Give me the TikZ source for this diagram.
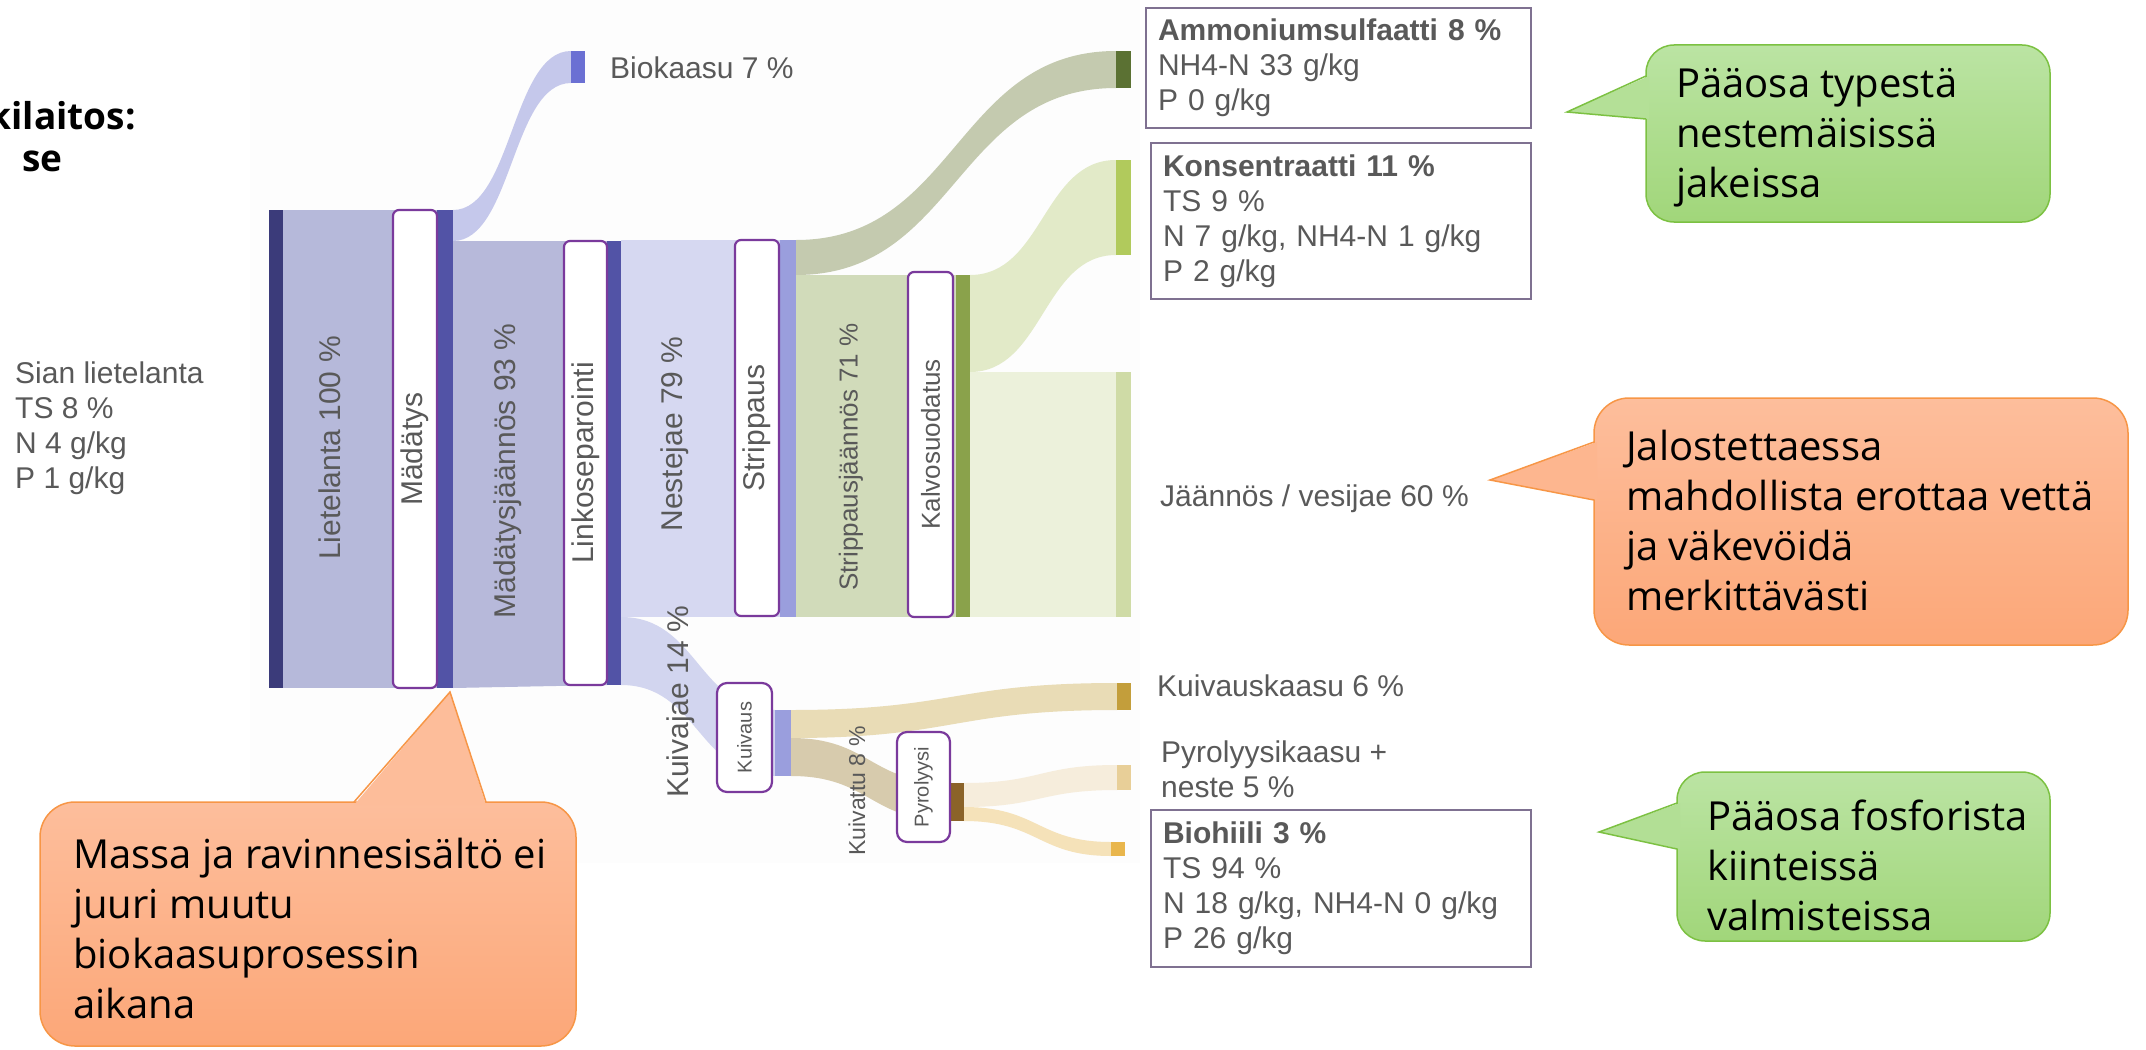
\documentclass[tikz,border=0pt]{standalone}
\usepackage{fontspec}
\usepackage{tikz}
\setmainfont{Liberation Sans}
\newfontfamily\callfont{Open Sans}

\definecolor{txtgray}{HTML}{595959}
\definecolor{bgpanel}{HTML}{FDFDFD}
\definecolor{procline}{HTML}{7A3A9C}
\definecolor{boxline}{HTML}{7F7191}
\definecolor{bliete}{HTML}{3B3B7A}
\definecolor{fliete}{HTML}{B6B9DA}
\definecolor{bmad}{HTML}{5253A6}
\definecolor{fbio}{HTML}{C5C8EB}
\definecolor{bbio}{HTML}{6B70D3}
\definecolor{fmad}{HTML}{B7B9DA}
\definecolor{fneste}{HTML}{D6D8F1}
\definecolor{fkuivajae}{HTML}{D2D5EF}
\definecolor{bstrip}{HTML}{9A9EDD}
\definecolor{famm}{HTML}{C4CAAF}
\definecolor{bamm}{HTML}{5B7133}
\definecolor{fstrip}{HTML}{D1DBBA}
\definecolor{bkalvo}{HTML}{8AA24B}
\definecolor{fkons}{HTML}{E2EAC8}
\definecolor{bkons}{HTML}{B1CA5C}
\definecolor{fjaan}{HTML}{ECF1DB}
\definecolor{bjaan}{HTML}{CFDBA6}
\definecolor{fkkaasu}{HTML}{E9DCB6}
\definecolor{bkkaasu}{HTML}{C39E3B}
\definecolor{fkuivattu}{HTML}{D7CBAD}
\definecolor{bpyro}{HTML}{8B6329}
\definecolor{fpkaasu}{HTML}{F6EDDC}
\definecolor{bpkaasu}{HTML}{E8CF98}
\definecolor{fhiili}{HTML}{F5E2B9}
\definecolor{bhiili}{HTML}{E9B64C}
\definecolor{gtop}{HTML}{BBE4A3}
\definecolor{gbot}{HTML}{A1D67A}
\definecolor{gedge}{HTML}{7CC142}
\definecolor{otop}{HTML}{FDBE9C}
\definecolor{obot}{HTML}{FCA778}
\definecolor{oedge}{HTML}{F79646}

\tikzset{
  procbox/.style={draw=procline, line width=2.2, fill=white, rounded corners=6, rotate=90, inner sep=0, text=txtgray, font=\fontsize{30}{36}\selectfont},
  flowlbl/.style={rotate=90, inner sep=0, text=txtgray, font=\fontsize{30}{36}\selectfont},
  lbl/.style={inner sep=0, text=txtgray, align=left, font=\fontsize{30}{35}\selectfont},
  infobox/.style={draw=boxline, line width=2, fill=white, anchor=north west, align=left, inner xsep=12, text=txtgray, font=\fontsize{30}{35}\selectfont},
  gcall/.style={top color=gtop, bottom color=gbot, draw=gedge, line width=1.5},
  ocall/.style={top color=otop, bottom color=obot, draw=oedge, line width=1.5},
  calltxt/.style={anchor=north west, inner sep=0, align=left, font=\callfont\fontsize{40}{50}\selectfont}
}

\begin{document}
\begin{tikzpicture}[x=1pt,y=-1pt]
\useasboundingbox (0,0) rectangle (2146,1049);
\fill[bgpanel] (250,0) rectangle (1140,863);

% title, cut at the left edge
\node[anchor=base east, inner sep=0, font=\callfont\bfseries\fontsize{37}{42}\selectfont] (otsikko1) at (136,129) {kilaitos:};
\node[anchor=base east, inner sep=0, font=\callfont\bfseries\fontsize{37}{42}\selectfont] (otsikko2) at (63,171) {se};

% flows
\fill[fliete] (283,210) rectangle (437,688);
\fill[fbio] (453,210) .. controls (512,210) and (512,51) .. (571,51) -- (571,83) .. controls (512,83) and (512,241) .. (453,241) -- cycle;
\fill[fmad] (453,241) -- (607,241) -- (607,685) -- (453,688) -- cycle;
\fill[fneste] (621,240) rectangle (780,617);
\fill[fkuivajae] (621,617) .. controls (698,617) and (698,710) .. (775,710) -- (775,776) .. controls (698,776) and (698,685) .. (621,685) -- cycle;
\fill[famm] (796,240) .. controls (956,240) and (956,51) .. (1116,51) -- (1116,88) .. controls (956,88) and (956,275) .. (796,275) -- cycle;
\fill[fstrip] (796,275) rectangle (956,617);
\fill[fkons] (970,275) .. controls (1043,275) and (1043,160) .. (1116,160) -- (1116,255) .. controls (1043,255) and (1043,372) .. (970,372) -- cycle;
\fill[fjaan] (970,372) rectangle (1116,617);
\fill[fkkaasu] (791,710) .. controls (954,710) and (954,683) .. (1117,683) -- (1117,710) .. controls (954,710) and (954,738) .. (791,738) -- cycle;
\fill[fkuivattu] (791,738) .. controls (870,738) and (870,783) .. (950,783) -- (950,821) .. controls (870,821) and (870,776) .. (791,776) -- cycle;
\fill[fpkaasu] (964,783) .. controls (1040,783) and (1040,765) .. (1117,765) -- (1117,790) .. controls (1040,790) and (1040,807) .. (964,807) -- cycle;
\fill[fhiili] (964,807) .. controls (1038,807) and (1038,842) .. (1111,842) -- (1111,856) .. controls (1038,856) and (1038,821) .. (964,821) -- cycle;

% bars
\fill[bliete] (269,210) rectangle (283,688);
\fill[bmad] (437,210) rectangle (453,688);
\fill[bbio] (571,51) rectangle (585,83);
\fill[bmad] (607,241) rectangle (621,685);
\fill[bstrip] (780,240) rectangle (796,617);
\fill[bamm] (1116,51) rectangle (1131,88);
\fill[bkalvo] (956,275) rectangle (970,617);
\fill[bkons] (1116,160) rectangle (1131,255);
\fill[bjaan] (1116,372) rectangle (1131,617);
\fill[bstrip] (775,710) rectangle (791,776);
\fill[bkkaasu] (1117,683) rectangle (1131,710);
\fill[bpyro] (950,783) rectangle (964,821);
\fill[bpkaasu] (1117,765) rectangle (1131,790);
\fill[bhiili] (1111,842) rectangle (1125,856);

% process boxes
\node[procbox, minimum width=478, minimum height=44] (mad) at (415,449) {Mädätys};
\node[procbox, minimum width=444, minimum height=43] (link) at (585.5,463) {Linkoseparointi};
\node[procbox, minimum width=376, minimum height=44] (strip) at (757,428) {Strippaus};
\node[procbox, minimum width=345, minimum height=45, font=\fontsize{26}{30}\selectfont] (kalvo) at (930.5,444.5) {Kalvosuodatus};
\node[procbox, minimum width=109, minimum height=55, rounded corners=10, font=\fontsize{20}{24}\selectfont] (kuiv) at (744.5,737.5) {Kuivaus};
\node[procbox, minimum width=110, minimum height=53, rounded corners=10, font=\fontsize{20}{24}\selectfont] (pyro) at (923.5,787) {Pyrolyysi};

% flow labels
\node[flowlbl] (lliete) at (330,448) {Lietelanta 100 \%};
\node[flowlbl] (lmadj) at (508,471) {Mädätysjäännös 93 \%};
\node[flowlbl] (lneste) at (675,434) {Nestejae 79 \%};
\node[flowlbl, font=\fontsize{26}{30}\selectfont] (lstrip) at (851,457) {Strippausjäännös 71 \%};
\node[flowlbl] (lkuivajae) at (681,702) {Kuivajae 14 \%};
\node[flowlbl, font=\fontsize{23}{27}\selectfont] (lkuivattu) at (857,791) {Kuivattu 8 \%};

% texts
\node[lbl, anchor=north west] (sian) at (15,362) {Sian lietelanta\\TS 8 \%\\N 4 g/kg\\P 1 g/kg};
\node[lbl, anchor=base west] (biokaasu) at (610,78) {Biokaasu 7 \%};
\node[lbl, anchor=base west] (jaan) at (1160,506) {Jäännös / vesijae 60 \%};
\node[lbl, anchor=base west] (kkaasu) at (1157,696) {Kuivauskaasu 6 \%};
\node[lbl, anchor=north west] (pkaasu) at (1161,741) {Pyrolyysikaasu +\\neste 5 \%};

\node[infobox, text width=361, minimum height=120] (amm) at (1145,7) {\textbf{Ammoniumsulfaatti 8 \%}\\NH4-N 33 g/kg\\P 0 g/kg};
\node[infobox, text width=356, minimum height=156] (kons) at (1150,142) {\textbf{Konsentraatti 11 \%}\\TS 9 \%\\N 7 g/kg, NH4-N 1 g/kg\\P 2 g/kg};
\node[infobox, text width=356, minimum height=157] (hiili) at (1150,809) {\textbf{Biohiili 3 \%}\\TS 94 \%\\N 18 g/kg, NH4-N 0 g/kg\\P 26 g/kg};

% callouts: box, then pointer over its edge
\draw[gcall, rounded corners=28] (1646,45) rectangle (2050,222);
\fill[gtop!72!gbot] (1649,76) -- (1567,112) -- (1649,119) -- cycle;
\draw[gedge, line width=1.5, line join=miter] (1646,76) -- (1567,112) -- (1646,119);
\node[calltxt] (typpi) at (1676,68) {Pääosa typestä\\nestemäisissä\\jakeissa};

\draw[ocall, rounded corners=35] (1594,398) rectangle (2128,645);
\fill[otop!65!obot] (1597,442) -- (1490,480) -- (1597,500) -- cycle;
\draw[oedge, line width=1.5, line join=miter] (1594,442) -- (1490,480) -- (1594,500);
\node[calltxt] (vesi) at (1626,430) {Jalostettaessa\\mahdollista erottaa vettä\\ja väkevöidä\\merkittävästi};

\draw[gcall, rounded corners=28] (1677,772) rectangle (2050,941);
\fill[gtop!65!gbot] (1680,803) -- (1599,832) -- (1680,849) -- cycle;
\draw[gedge, line width=1.5, line join=miter] (1677,803) -- (1599,832) -- (1677,849);
\node[calltxt] (fosfori) at (1707,800) {Pääosa fosforista\\kiinteissä\\valmisteissa};

\draw[ocall, rounded corners=35] (40,802) rectangle (576,1046);
\fill[otop!95!obot] (354,805) -- (450,692) -- (486,805) -- cycle;
\draw[oedge, line width=1.5, line join=miter] (354,802) -- (450,692) -- (486,802);
\node[calltxt] (massa) at (73,838) {Massa ja ravinnesisältö ei\\juuri muutu\\biokaasuprosessin\\aikana};
\end{tikzpicture}
\end{document}
